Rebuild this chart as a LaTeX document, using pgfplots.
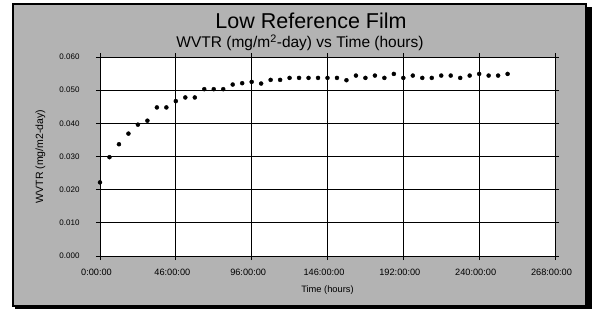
\documentclass[border=0pt]{standalone}
\usepackage{pgfplots}
\pgfplotsset{compat=1.18}
\usepackage{fontspec}
\setmainfont{Liberation Sans}
\definecolor{bg}{RGB}{179,179,179}
\begin{document}
\begin{tikzpicture}[x=1pt,y=1pt]
\useasboundingbox (-100,-53) rectangle (492,256);
\fill[black] (-85,-53) rectangle (492,249);
\fill[bg,draw=black,line width=2pt] (-87,-49.5) rectangle (485.5,252);
\node[anchor=base,font=\fontsize{21.5}{24}\selectfont] at (211,228) {Low Reference Film};
\node[anchor=base,font=\fontsize{15.5}{18}\selectfont] at (200,208.5) {WVTR (mg/m\textsuperscript{2}-day) vs Time (hours)};
\begin{axis}[
  at={(0,0)}, anchor=south west,
  scale only axis, width=455pt, height=199pt,
  xmin=0, xmax=48, ymin=0, ymax=0.06,
  axis background/.style={fill=white},
  xtick={0,8,...,48},
  xticklabels={0:00:00,46:00:00,96:00:00,146:00:00,192:00:00,240:00:00,268:00:00},
  ytick={0,0.01,...,0.06},
  /pgf/number format/fixed,
  /pgf/number format/fixed zerofill,
  /pgf/number format/precision=3,
  /pgf/number format/assume math mode=true,
  scaled y ticks=false,
  yticklabel style={font=\fontsize{8}{9}\selectfont, xshift=-13pt},
  xticklabel style={font=\fontsize{9.2}{10}\selectfont, xshift=-3.5pt, yshift=-6pt},
  tick align=outside, major tick length=4pt,
  tick style={black, line width=0.8pt},
  grid=major, grid style={black, line width=0.8pt},
  axis line style={black, line width=0.8pt},
  xlabel={Time (hours)}, ylabel={WVTR (mg/m2-day)},
  xlabel style={font=\fontsize{9.3}{10}\selectfont, at={(axis description cs:0.5,0)}, anchor=base, yshift=-36pt},
  ylabel style={font=\fontsize{10.5}{11}\selectfont, at={(axis description cs:0,0.5)}, anchor=center, yshift=59.5pt},
  clip=false,
]
\addplot[only marks, mark=*, mark size=2pt, black] coordinates {
(0,0.0222) (1,0.0298) (2,0.0337) (3,0.0369) (4,0.0396) (5,0.0408)
(6,0.0448) (7,0.0448) (8,0.0467) (9,0.0478) (10,0.0478) (11,0.0503)
(12,0.0503) (13,0.0503) (14,0.0517) (15,0.0521) (16,0.0525) (17,0.0520)
(18,0.0531) (19,0.0531) (20,0.0537) (21,0.0537) (22,0.0537) (23,0.0537)
(24,0.0537) (25,0.0537) (26,0.0530) (27,0.0544) (28,0.0537) (29,0.0544)
(30,0.0537) (31,0.0549) (32,0.0537) (33,0.0544) (34,0.0537) (35,0.0537)
(36,0.0544) (37,0.0544) (38,0.0537) (39,0.0544) (40,0.0549) (41,0.0544)
(42,0.0544) (43,0.0549)
};
\end{axis}
\end{tikzpicture}
\end{document}
